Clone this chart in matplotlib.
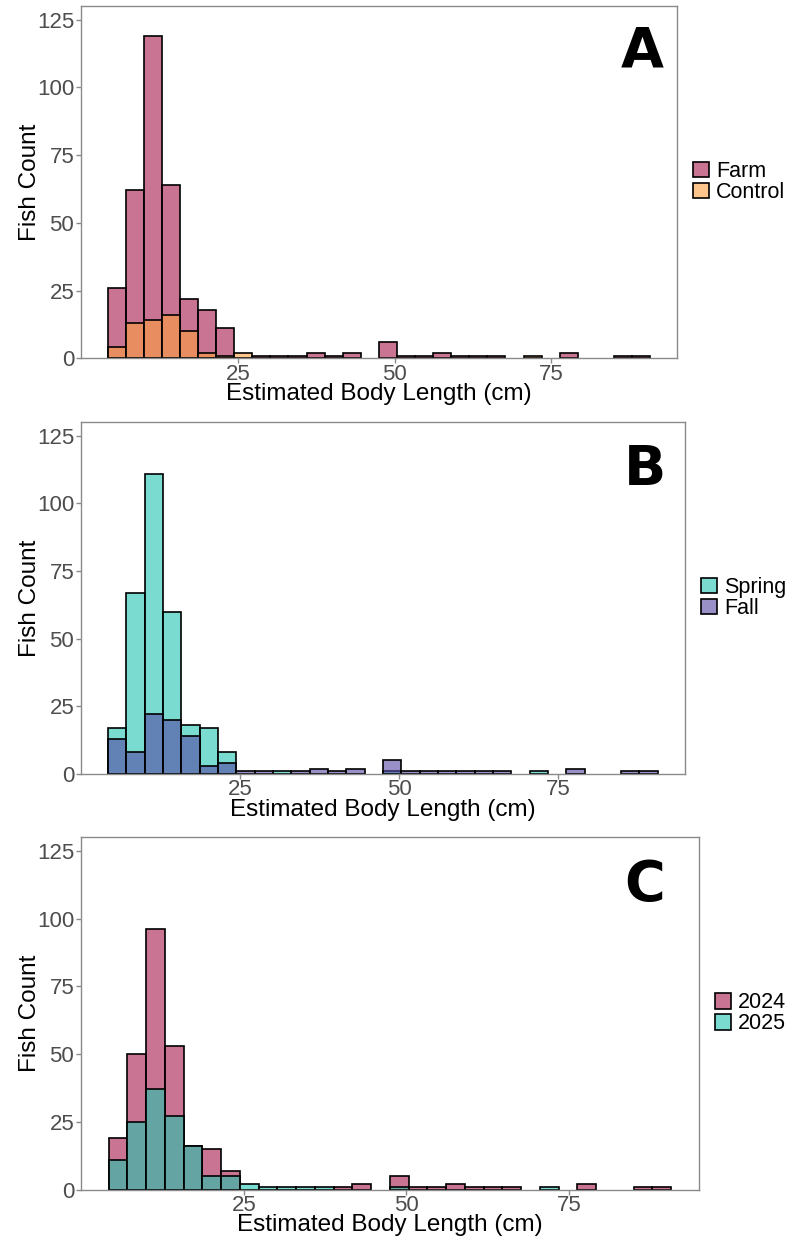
import numpy as np
import matplotlib
matplotlib.use("Agg")
import matplotlib.pyplot as plt

plt.rcParams['font.family'] = ['Liberation Sans', 'DejaVu Sans']

# ---- data (30 bins of estimated body length, cm) ----
bin_lo, bin_hi, n_bins = 4.17, 90.75, 30

farm = [26, 62, 119, 64, 22, 18, 11, 0, 1, 1, 1, 2, 1, 2, 0, 6, 1, 1, 2, 1, 1, 1, 0, 0, 0, 2, 0, 0, 1, 1]
control = [4, 13, 14, 16, 10, 2, 1, 2, 0, 0, 0, 0, 0, 0, 0, 0, 0, 0, 0, 0, 0, 0, 0, 1, 0, 0, 0, 0, 0, 0]

spring = [17, 67, 111, 60, 18, 17, 8, 0, 0, 1, 0, 0, 0, 0, 0, 1, 0, 0, 0, 0, 0, 0, 0, 1, 0, 0, 0, 0, 0, 0]
fall = [13, 8, 22, 20, 14, 3, 4, 1, 1, 0, 1, 2, 1, 2, 0, 5, 1, 1, 1, 1, 1, 1, 0, 0, 0, 2, 0, 0, 1, 1]

y2024 = [19, 50, 96, 53, 16, 15, 7, 0, 0, 0, 0, 0, 1, 2, 0, 5, 1, 1, 2, 1, 1, 1, 0, 0, 0, 2, 0, 0, 1, 1]
y2025 = [11, 25, 37, 27, 16, 5, 5, 2, 1, 1, 1, 1, 0, 0, 0, 1, 0, 0, 0, 0, 0, 0, 0, 1, 0, 0, 0, 0, 0, 0]

x_ticks = [25, 50, 75]
y_ticks = [0, 25, 50, 75, 100, 125]

panels = [
    ("A", ["Farm", "Control"], [farm, control], ["#A5174A", "#FD9E3F"]),
    ("B", ["Spring", "Fall"], [spring, fall], ["#21C6B1", "#5346A3"]),
    ("C", ["2024", "2025"], [y2024, y2025], ["#A5174A", "#21C6B1"]),
]

# ---- layout (pixels) ----
W, H = 790, 1245
rects = [  # left, right, top, bottom
    (80.5, 677.3, 6.0, 358.3),
    (80.5, 685.3, 422.3, 774.0),
    (80.5, 699.3, 837.3, 1189.5),
]
letter_pos = [(0.941, 0.87), (0.933, 0.865), (0.912, 0.865)]

fig = plt.figure(figsize=(W / 100, H / 100), dpi=100)
edges = np.linspace(bin_lo, bin_hi, n_bins + 1)
bw = edges[1] - edges[0]
alpha = 0.6
grey = "#8A8A8A"

for (letter, labels, series, cols), (l, r, t, b), lp in zip(panels, rects, letter_pos):
    ax = fig.add_axes([l / W, 1 - b / H, (r - l) / W, (b - t) / H])
    handles = []
    for vals, col, lab in zip(series, cols, labels):
        vals = np.asarray(vals)
        mask = vals > 0
        rgba = matplotlib.colors.to_rgba(col, alpha)
        bars = ax.bar(edges[:-1][mask], vals[mask], width=bw, align="edge",
                      facecolor=rgba, edgecolor="black", linewidth=1.2, label=lab)
        handles.append(bars)
    span = bin_hi - bin_lo
    ax.set_xlim(bin_lo - 0.05 * span, bin_hi + 0.05 * span)
    ax.set_ylim(0, 130)
    ax.set_xticks(x_ticks)
    ax.set_yticks(y_ticks)
    for s in ax.spines.values():
        s.set_color(grey)
        s.set_linewidth(1.0)
    ax.tick_params(axis="both", colors=grey, labelcolor="#4D4D4D", length=3.5,
                   width=1.0, labelsize=16, pad=1.0)
    ax.tick_params(axis="x", pad=0.3)
    ax.set_xlabel("Estimated Body Length (cm)", fontsize=17.5, labelpad=-1.2, color="black")
    ax.set_ylabel("Fish Count", fontsize=17.5, labelpad=-3, color="black")
    ax.text(lp[0], lp[1], letter, transform=ax.transAxes, ha="center", va="center",
            fontsize=40, fontweight="bold", family=["DejaVu Sans"], color="black")
    px = 16.0 / (r - l)
    leg = ax.legend(handles=handles, loc="center left", bbox_to_anchor=(1 + px, 0.5),
                    frameon=False, fontsize=15.5, handlelength=0.72, handleheight=0.72,
                    handletextpad=0.35, labelspacing=0.0, borderaxespad=0.0,
                    borderpad=0.0)

fig.savefig("out.png", dpi=100, facecolor="white")
